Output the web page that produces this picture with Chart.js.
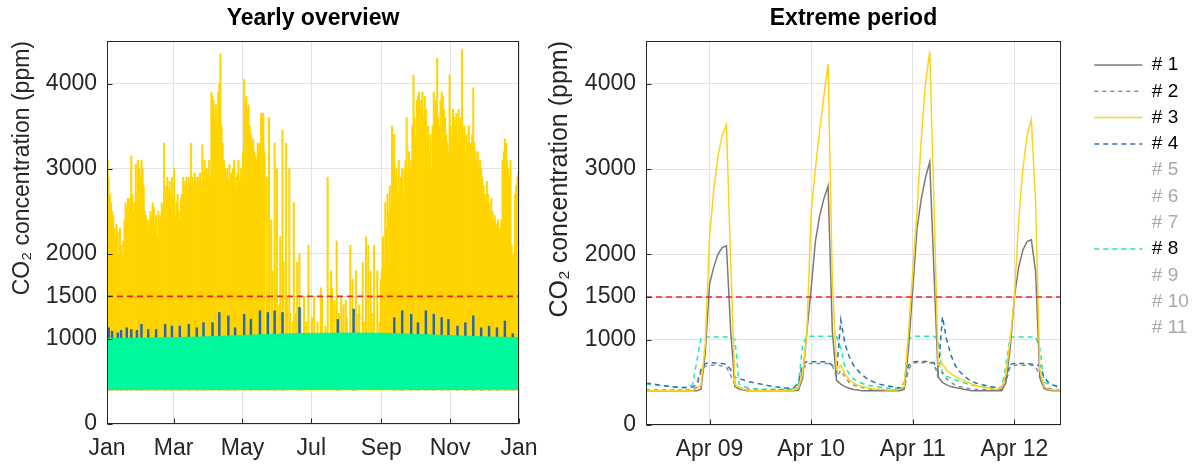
<!DOCTYPE html>
<html>
<head>
<meta charset="utf-8">
<script src="https://cdn.jsdelivr.net/npm/chart.js@4.4.0/dist/chart.umd.min.js"></script>
<style>
  body { margin: 0; background: #fff; }
  #wrap { position: relative; width: 1199px; height: 464px; }
  #yearly { position: absolute; left: 0; top: 0; }
  #extreme { position: absolute; left: 540px; top: 0; }
</style>
</head>
<body>
<div id="wrap">
  <canvas id="yearly" width="540" height="464"></canvas>
  <canvas id="extreme" width="659" height="464"></canvas>
</div>
<script>
// ---- shared ----
const co2Ticks = [0, 1000, 1500, 2000, 3000, 4000]
const limitPpm = 1500
const nightBase = 400

// ---- yearly overview ----
const monthTickDays = [0, 59, 120, 181, 243, 304, 365]
const monthLabels = ['Jan', 'Mar', 'May', 'Jul', 'Sep', 'Nov', 'Jan']

// daily peak of room #3 (ppm), day 0 = Jan 1
const yellowDailyPeak = [
  3100, 2900, 2700, 2600, 2500, 2450, 2300, 2200, 2350, 2250,
  2000, 2300, 2100, 2000, 2150, 2400, 2600, 2550, 2650, 2500,
  2650, 3150, 2700, 2500, 2600, 3050, 2700, 3100, 3000, 2900,
  3100, 3000, 2800, 2500, 2450, 2300, 2400, 2350, 2500, 2450,
  2600, 2550, 2300, 2450, 2200, 2500, 2350, 2450, 2600, 2550,
  3300, 2700, 2800, 2900, 2750, 2850, 2700, 2900, 2650, 3000,
  2450, 2600, 2700, 2500, 2400, 2650, 2700, 2900, 2800, 2850,
  2900, 2750, 2900, 2800, 3300, 2900, 2850, 2950, 2900, 2800,
  2900, 2850, 2950, 2800, 3280, 2900, 3100, 2850, 3000, 2950,
  3100, 2900, 3900, 3850, 3800, 3600, 3750, 3500, 3900, 4000,
  4350, 3500, 3300, 3100, 3000, 2900, 3000, 2850, 3050, 2900,
  2950, 3000, 3100, 2800, 2900, 2950, 3100, 2850, 3000, 2900,
  3200, 4050, 3800, 3850, 3700, 3750, 3500, 3400, 3300, 3350,
  3200, 3150, 3100, 3300, 3250, 3300, 3650, 3600, 3650, 3200,
  900, 2900, 1500, 3600, 900, 2400, 1800, 900, 3300, 1600,
  3000, 900, 1400, 2200, 900, 3450, 1900, 900, 3300, 1500,
  900, 3000, 1300, 900, 1200, 2600, 900, 1300, 1900, 900,
  2000, 1350, 900, 900, 1500, 900, 1200, 900, 2100, 900,
  900, 1250, 900, 1500, 900, 900, 1200, 900, 900, 1600,
  1500, 900, 900, 1150, 900, 2900, 900, 900, 1800, 1600,
  900, 1450, 900, 2150, 900, 1300, 900, 1500, 1200, 1400,
  900, 1450, 1250, 900, 900, 2100, 900, 1700, 900, 900,
  1800, 900, 1300, 1400, 900, 900, 1900, 1200, 900, 2200,
  900, 2100, 900, 1800, 1300, 900, 2100, 900, 900, 1800,
  900, 1200, 1700, 1800, 2200, 1900, 2600, 2300, 2700, 2500,
  2800, 2600, 3500, 3100, 3400, 2900, 3000, 2700, 3100, 2800,
  2900, 3000, 2700, 3000, 3100, 3600, 2900, 3200, 3000, 3100,
  3500, 4100, 3600, 3400, 3800, 3850, 3900, 3700, 3800, 3900,
  3600, 3850, 3700, 3300, 3500, 3200, 3400, 3000, 3500, 3900,
  3700, 3800, 4300, 3600, 3500, 3800, 3900, 3850, 3700, 3600,
  3400, 3300, 3200, 4100, 3500, 3400, 3700, 3600, 3500, 3650,
  3400, 3700, 3500, 3600, 4400, 3300, 3500, 3200, 3400, 3300,
  3500, 3200, 3300, 3400, 3950, 3300, 3200, 3100, 3200, 3000,
  3100, 3000, 2900, 2800, 2700, 2600, 2850, 2700, 2600, 2500,
  2650, 2500, 2400, 2450, 2350, 2300, 2400, 2250, 2300, 2400,
  3100, 3200, 3350, 3300, 3100, 3000, 2900, 3100, 2100, 1950,
  2000, 2700, 2800, 2900, 2950
]

// room #4 weekly peaks
const blueSpikeDays = [1, 4, 9, 12, 17, 21, 26, 30, 36, 43, 51, 57, 64, 72, 79, 85, 93, 99, 107, 113,
  121, 127, 135, 142, 148, 155, 170, 204, 218, 254, 261, 269, 275, 282, 289, 296, 302, 310, 317,
  324, 331, 338, 345, 352, 359]
const blueSpikePeak = [1130, 1090, 1070, 1100, 1130, 1110, 1100, 1170, 1110, 1110, 1170, 1150, 1150, 1170, 1130, 1190, 1190, 1310, 1270, 1130,
  1290, 1230, 1330, 1310, 1330, 1310, 1370, 1230, 1350, 1250, 1330, 1290, 1190, 1330, 1290, 1250, 1230, 1150, 1190,
  1270, 1130, 1150, 1130, 1210, 1060]

// room #8 daily band (top of the band)
const greenTopDays = [0, 30, 60, 90, 120, 150, 180, 210, 240, 270, 300, 330, 365]
const greenTopPpm = [1005, 1010, 1015, 1025, 1040, 1055, 1065, 1068, 1068, 1055, 1040, 1025, 1015]

// ---- extreme period (hourly, Apr 08 09:00 .. Apr 12 11:00) ----
const hourLabels = []
for (let h = 0; h < 99; h++) {
  const t = 8 * 24 + 9 + h
  hourLabels.push('Apr ' + String(Math.floor(t / 24)).padStart(2, '0') + ' ' + String(t % 24).padStart(2, '0') + ':00')
}
const dayLabels = ['Apr 09', 'Apr 10', 'Apr 11', 'Apr 12']

const room1 = [
  400, 400, 400, 400, 400, 400, 400, 400, 400, 400,
  400, 400, 400, 420, 850, 1650, 1850, 2000, 2080, 2100,
  1100, 450, 420, 410, 400, 400, 400, 400, 400, 400,
  400, 400, 400, 400, 400, 400, 410, 550, 1100, 1600,
  2150, 2450, 2650, 2800, 1100, 520, 480, 450, 430, 415,
  410, 400, 400, 400, 400, 400, 400, 400, 400, 400,
  400, 420, 900, 1600, 2300, 2650, 2900, 3080, 1800, 560,
  500, 470, 450, 440, 430, 420, 410, 400, 400, 400,
  400, 400, 400, 400, 400, 500, 900, 1500, 1850, 2050,
  2150, 2170, 1800, 550, 430, 410, 400, 400, 400
]
const room2 = [
  410, 410, 410, 410, 410, 410, 410, 410, 410, 410,
  410, 410, 450, 620, 690, 700, 700, 700, 690, 680,
  580, 470, 440, 430, 420, 410, 410, 410, 410, 410,
  410, 410, 410, 410, 410, 410, 450, 650, 720, 720,
  720, 720, 720, 720, 700, 560, 640, 560, 500, 470,
  450, 440, 430, 420, 410, 410, 410, 410, 410, 410,
  410, 430, 650, 730, 730, 730, 730, 730, 720, 560,
  620, 540, 500, 470, 450, 440, 430, 415, 415, 415,
  415, 415, 415, 415, 415, 500, 690, 700, 700, 700,
  700, 700, 690, 560, 460, 430, 420, 415, 410
]
const room3 = [
  400, 400, 400, 400, 400, 400, 400, 400, 400, 400,
  400, 405, 430, 470, 950, 2200, 2750, 3150, 3400, 3520,
  1900, 480, 440, 420, 410, 400, 400, 400, 400, 400,
  400, 400, 400, 400, 400, 410, 440, 600, 1100, 2500,
  3000, 3450, 3850, 4230, 1700, 650, 700, 600, 530, 490,
  470, 450, 440, 430, 420, 420, 415, 410, 410, 410,
  420, 450, 1100, 1800, 2500, 3350, 4000, 4380, 2600, 700,
  720, 640, 600, 570, 540, 520, 500, 480, 460, 450,
  440, 430, 420, 420, 440, 600, 1000, 1500, 2400, 3000,
  3400, 3580, 2600, 650, 450, 420, 410, 410, 410
]
const room4 = [
  490, 485, 480, 470, 460, 455, 450, 445, 440, 440,
  440, 445, 480, 650, 720, 730, 730, 720, 720, 710,
  650, 560, 540, 530, 510, 500, 490, 480, 470, 460,
  450, 445, 440, 435, 430, 440, 500, 720, 740, 740,
  740, 740, 740, 735, 700, 620, 1230, 950, 800, 700,
  640, 590, 550, 520, 500, 480, 470, 460, 450, 440,
  435, 440, 700, 740, 745, 745, 745, 740, 730, 620,
  1270, 1000, 820, 700, 630, 580, 540, 510, 490, 475,
  465, 455, 445, 440, 440, 560, 710, 720, 720, 720,
  720, 715, 700, 700, 560, 500, 470, 450, 440
]
const room8 = [
  480, 475, 470, 465, 460, 455, 450, 445, 440, 440,
  440, 470, 750, 1020, 1030, 1030, 1030, 1030, 1030, 1030,
  1030, 1000, 480, 450, 440, 430, 425, 420, 420, 420,
  420, 420, 420, 420, 420, 430, 480, 950, 1040, 1040,
  1040, 1040, 1040, 1040, 1040, 1040, 900, 680, 600, 540,
  510, 490, 470, 460, 450, 445, 440, 435, 430, 430,
  430, 500, 1000, 1040, 1040, 1040, 1040, 1040, 1040, 1000,
  600, 570, 550, 530, 510, 495, 480, 470, 460, 450,
  445, 440, 435, 430, 440, 700, 1030, 1030, 1030, 1030,
  1030, 1030, 1030, 900, 500, 480, 470, 460, 460
]

const legendNames = ['# 1', '# 2', '# 3', '# 4', '# 5', '# 6', '# 7', '# 8', '# 9', '# 10', '# 11']

// ---- helpers ----
Chart.defaults.font.family = "'Liberation Sans', Arial, Helvetica, sans-serif"
Chart.defaults.color = '#262626'

const fixedTicks = values => scale => { scale.ticks = values.map(v => ({ value: v })) }
const gridColor = '#e3e3e3'
const tickSize = 23

// matlab style box with inner tick marks
const axesBox = {
  id: 'axesBox',
  afterDraw(chart) {
    const { ctx, chartArea: a, scales } = chart
    const l = Math.round(a.left) + 0.5, r = Math.round(a.right) - 0.5
    const t = Math.round(a.top) + 0.5, b = Math.round(a.bottom) - 0.5
    ctx.save()
    ctx.strokeStyle = '#262626'
    ctx.lineWidth = 1
    ctx.beginPath()
    scales.x.ticks.forEach((tk, i) => {
      const x = Math.round(scales.x.getPixelForTick(i)) + 0.5
      ctx.moveTo(x, b); ctx.lineTo(x, b - 5)
    })
    scales.y.ticks.forEach(tk => {
      const y = Math.round(scales.y.getPixelForValue(tk.value)) + 0.5
      ctx.moveTo(l, y); ctx.lineTo(l + 5, y)
    })
    ctx.stroke()
    ctx.strokeRect(l, t, r - l, b - t)
    ctx.restore()
  }
}

const titleAxis = text => ({
  type: 'linear', position: 'top', min: 0, max: 1,
  afterFit: s => { s.height = 41 },
  grid: { display: false }, border: { display: false }, ticks: { display: false },
  title: { display: true, text, color: '#000', font: { size: 23, weight: 'bold' }, padding: { top: 5, bottom: 0 } }
})

const co2Axis = (width, titleSize, titlePad) => ({
  type: 'linear', min: 0, max: 4500,
  afterBuildTicks: fixedTicks(co2Ticks),
  afterFit: s => { s.width = width },
  grid: { color: gridColor, drawTicks: false },
  border: { display: false },
  ticks: { callback: v => String(v), padding: 10, font: { size: tickSize }, color: '#262626' },
  title: { display: true, text: 'CO₂ concentration (ppm)', align: 'end', color: '#262626', font: { size: titleSize }, padding: { top: titlePad, bottom: 0 } }
})

// bottom axis: fixed height, no extra side padding for the edge labels
const fitBottom = height => s => { s.height = height; s.paddingLeft = 0; s.paddingRight = 0 }

// ---- yearly chart ----
new Chart(document.getElementById('yearly'), {
  type: 'bar',
  data: {
    datasets: [
      {
        label: '# 3', type: 'bar', xAxisID: 'x', yAxisID: 'y',
        data: yellowDailyPeak.map((v, d) => ({ x: d + 0.5, y: [nightBase, v] })),
        backgroundColor: '#ffd400', borderWidth: 0, barThickness: 1.4, grouped: false, order: 4
      },
      {
        label: '# 4', type: 'bar', xAxisID: 'x', yAxisID: 'y',
        data: blueSpikeDays.map((d, i) => ({ x: d + 0.5, y: [nightBase, blueSpikePeak[i]] })),
        backgroundColor: '#226aad', borderWidth: 0, barThickness: 1.8, grouped: false, order: 3
      },
      {
        label: '# 8', type: 'line', xAxisID: 'x', yAxisID: 'y',
        data: greenTopDays.map((d, i) => ({ x: d, y: greenTopPpm[i] })),
        borderColor: '#00f79c', backgroundColor: '#00f79c', borderWidth: 1,
        fill: { value: nightBase }, pointRadius: 0, tension: 0, order: 2
      },
      {
        label: 'limit', type: 'line', xAxisID: 'x', yAxisID: 'y',
        data: [{ x: monthTickDays[0], y: limitPpm }, { x: monthTickDays[monthTickDays.length - 1], y: limitPpm }],
        borderColor: '#e8262b', borderWidth: 1.6, borderDash: [6, 4], pointRadius: 0, fill: false, order: 1
      }
    ]
  },
  options: {
    responsive: false,
    animation: false,
    layout: { padding: { left: 0, right: 21, top: 0, bottom: 0 } },
    plugins: { legend: { display: false }, tooltip: { enabled: false } },
    scales: {
      x: {
        type: 'linear', min: 0, max: 365, offset: false,
        afterBuildTicks: fixedTicks(monthTickDays),
        afterFit: fitBottom(40),
        grid: { color: gridColor, drawTicks: false, offset: false },
        border: { display: false },
        ticks: { callback: (v, i) => monthLabels[i], autoSkip: false, maxRotation: 0, padding: 11, font: { size: tickSize }, color: '#262626' }
      },
      xTitle: titleAxis('Yearly overview'),
      y: co2Axis(107, 23, 9)
    }
  },
  plugins: [axesBox]
})

// ---- extreme period chart ----
const roomLine = (label, values, color, dash, order) => ({
  label, data: values, xAxisID: 'x', yAxisID: 'y',
  borderColor: color, borderWidth: 1.5, borderDash: dash,
  pointRadius: 0, tension: 0, fill: false, order
})

new Chart(document.getElementById('extreme'), {
  type: 'line',
  data: {
    labels: hourLabels,
    datasets: [
      roomLine('# 1', room1, '#7a7a7a', [], 3),
      roomLine('# 2', room2, '#8c8c8c', [4, 4], 4),
      roomLine('# 3', room3, '#ffd21a', [], 2),
      roomLine('# 4', room4, '#2a72b5', [5, 4], 5),
      roomLine('# 8', room8, '#22e8b0', [5, 4], 6),
      {
        label: 'limit', xAxisID: 'x', yAxisID: 'y',
        data: [{ x: hourLabels[0], y: limitPpm }, { x: hourLabels[hourLabels.length - 1], y: limitPpm }],
        borderColor: '#e8262b', borderWidth: 1.6, borderDash: [6, 4], pointRadius: 0, fill: false, order: 1
      }
    ]
  },
  options: {
    responsive: false,
    animation: false,
    layout: { padding: { left: 0, right: 1, top: 0, bottom: 0 } },
    plugins: {
      tooltip: { enabled: false },
      legend: {
        position: 'right', align: 'start', fullSize: false, maxWidth: 111,
        title: { display: true, text: ' ', font: { size: 6, lineHeight: 1.2 }, padding: 0 },
        labels: {
          usePointStyle: true, pointStyle: 'line', pointStyleWidth: 48,
          padding: 7.3, font: { size: 19 },
          generateLabels: chart => legendNames.map(name => {
            const ds = chart.data.datasets.find(d => d.label === name)
            return {
              text: name,
              fontColor: ds ? '#000' : '#a8a8a8',
              strokeStyle: ds ? ds.borderColor : 'rgba(0,0,0,0)',
              fillStyle: 'rgba(0,0,0,0)',
              lineWidth: ds ? 1.5 : 0,
              lineDash: ds ? ds.borderDash : [],
              pointStyle: 'line',
              hidden: false,
              datasetIndex: ds ? chart.data.datasets.indexOf(ds) : undefined
            }
          })
        }
      }
    },
    scales: {
      x: {
        type: 'category', offset: false,
        afterBuildTicks: fixedTicks(dayLabels.map(d => hourLabels.indexOf(d + ' 00:00'))),
        afterFit: fitBottom(39),
        grid: { color: gridColor, drawTicks: false, offset: false },
        border: { display: false },
        ticks: { callback: (v, i) => dayLabels[i], autoSkip: false, maxRotation: 0, padding: 11, font: { size: tickSize }, color: '#262626' }
      },
      xTitle: titleAxis('Extreme period'),
      y: co2Axis(106, 25, 5),
      yGap: {
        type: 'linear', position: 'right',
        afterFit: s => { s.width = 26 },
        grid: { display: false }, border: { display: false }, ticks: { display: false }
      }
    }
  },
  plugins: [axesBox]
})
</script>
</body>
</html>
